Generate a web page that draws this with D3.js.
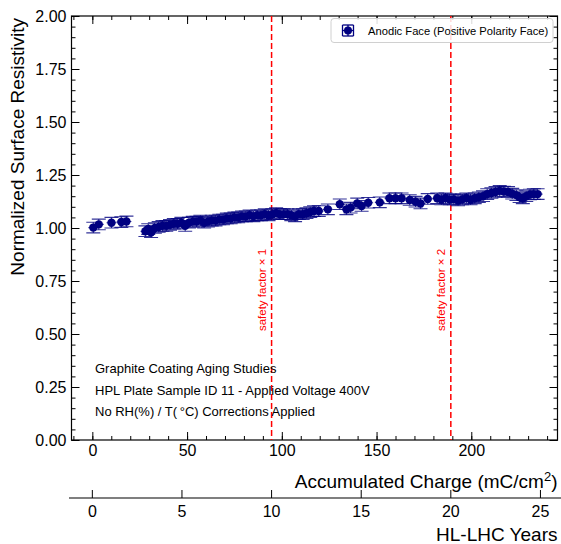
<!DOCTYPE html>
<html>
<head>
<meta charset="utf-8">
<script src="https://cdn.jsdelivr.net/npm/d3@7"></script>
<style>
  body { margin: 0; background: #fff; }
  svg { display: block; }
  text { font-family: "Liberation Sans", Arial, Helvetica, sans-serif; fill: #000; }
</style>
</head>
<body>
<svg id="chart" width="561" height="544"></svg>
<script>
// Accumulated charge (mC/cm^2) for each measurement
const charge = [
  0.5, 3.4, 10.1, 15.3, 18.0,
  28.0, 29.5, 31.0, 33.0, 35.0, 37.0, 39.0, 41.0, 43.0, 45.0, 47.0, 49.0, 51.0, 53.0,
  55.0, 57.0, 59.0, 61.0, 63.0, 65.0, 67.0, 69.0, 71.0, 73.0, 75.0, 77.0, 79.0, 81.0,
  83.0, 85.0, 87.0, 89.0, 91.0, 93.0, 95.0, 97.0, 99.0, 101.0, 103.0, 105.0, 107.0,
  109.0, 111.0, 113.0, 115.0, 117.0, 119.5,
  124.3, 130.6, 134.1, 136.3, 139.8, 142.1, 145.6, 151.7, 156.8, 160.0, 163.2, 167.5,
  170.6, 173.2, 177.0,
  182.0, 184.2, 186.4, 188.6, 190.8, 193.0, 195.2, 197.4, 199.6, 201.8, 204.0, 206.2,
  208.4, 210.6, 212.8, 215.0, 217.2, 219.4, 221.6, 223.8, 225.5, 227.2, 229.0, 231.0,
  233.0, 235.0
];

// Normalized surface resistivity of the anodic face
const resistivity = [
  1.002, 1.017, 1.025, 1.028, 1.031,
  0.985, 0.995, 0.980, 1.000, 1.005, 1.010, 1.010, 1.015, 1.020, 1.020, 1.025, 1.010, 1.025, 1.030,
  1.030, 1.035, 1.025, 1.030, 1.035, 1.035, 1.040, 1.040, 1.045, 1.045, 1.050, 1.050, 1.055, 1.055,
  1.060, 1.055, 1.060, 1.060, 1.065, 1.060, 1.065, 1.070, 1.065, 1.065, 1.065, 1.060, 1.055,
  1.065, 1.065, 1.070, 1.075, 1.080, 1.080,
  1.088, 1.112, 1.088, 1.096, 1.116, 1.104, 1.119, 1.121, 1.140, 1.140, 1.140, 1.132,
  1.124, 1.116, 1.137,
  1.140, 1.135, 1.140, 1.135, 1.135, 1.130, 1.135, 1.140, 1.135, 1.140, 1.145, 1.150,
  1.160, 1.165, 1.170, 1.175, 1.172, 1.170, 1.162, 1.155, 1.145, 1.140, 1.150, 1.158,
  1.160, 1.160
];

// Measurement uncertainties
const resistivityErr = 0.025;   // normalized units
const chargeErr = 2.6;          // mC/cm^2

// Axis ticks
const yTicks = [0, 0.25, 0.5, 0.75, 1.0, 1.25, 1.5, 1.75, 2.0];
const yTickLabels = ["0.00", "0.25", "0.50", "0.75", "1.00", "1.25", "1.50", "1.75", "2.00"];
const chargeTicks = [0, 50, 100, 150, 200];
const yearTicks = [0, 5, 10, 15, 20, 25];

// HL-LHC conversion and safety-factor markers
const chargePerYear = 9.46;     // mC/cm^2 per HL-LHC year
const safetyYears = [10, 20];
const safetyLabels = ["safety factor \u00d7 1", "safety factor \u00d7 2"];

const annotations = [
  "Graphite Coating Aging Studies",
  "HPL Plate Sample ID 11 - Applied Voltage 400V",
  "No RH(%) / T(\u2009\u00b0C) Corrections Applied"
];
const seriesName = "Anodic Face (Positive Polarity Face)";

// ---- layout ----
const frame = { left: 71.5, right: 557.5, top: 16, bottom: 440 };
const chargeDomain = [-11, 245.5];
const navy = "#000080";

const svg = d3.select("#chart");

const x = d3.scaleLinear().domain(chargeDomain).range([frame.left, frame.right]);
const xYears = d3.scaleLinear()
  .domain(chargeDomain.map(c => c / chargePerYear))
  .range([frame.left, frame.right]);
const y = d3.scaleLinear().domain([0, 2]).range([frame.bottom, frame.top]);

const plotW = frame.right - frame.left, plotH = frame.bottom - frame.top;

svg.append("defs").append("clipPath").attr("id", "plotClip")
  .append("rect").attr("x", frame.left).attr("y", frame.top).attr("width", plotW).attr("height", plotH);

// ---- frame ticks (pointing inward) ----
const minorX = d3.range(-10, 246, 10);
const minorY = d3.range(0, 2.0001, 0.05);

function tickAxis(axisFn, scale, values, size) {
  return axisFn(scale).tickValues(values).tickSize(size).tickFormat("");
}
function addTicks(axisFn, scale, values, size, tx, ty) {
  svg.append("g").attr("transform", `translate(${tx},${ty})`)
    .call(tickAxis(axisFn, scale, values, size))
    .call(g => g.select(".domain").remove());
}

addTicks(d3.axisTop, x, minorX, 4, 0, frame.bottom);
addTicks(d3.axisTop, x, chargeTicks, 8, 0, frame.bottom);
addTicks(d3.axisBottom, x, minorX, 4, 0, frame.top);
addTicks(d3.axisBottom, x, chargeTicks, 8, 0, frame.top);
addTicks(d3.axisRight, y, minorY, 4, frame.left, 0);
addTicks(d3.axisRight, y, yTicks, 8, frame.left, 0);
addTicks(d3.axisLeft, y, minorY, 4, frame.right, 0);
addTicks(d3.axisLeft, y, yTicks, 8, frame.right, 0);

const xLab = svg.append("g").attr("transform", `translate(0,${frame.bottom})`)
  .call(d3.axisBottom(x).tickValues(chargeTicks).tickSize(0).tickPadding(5).tickFormat(d3.format("d")));
xLab.select(".domain").remove();
xLab.selectAll("text").attr("font-size", 16).style("font-family", "Liberation Sans, Arial, sans-serif");

const yLab = svg.append("g").attr("transform", `translate(${frame.left},0)`)
  .call(d3.axisLeft(y).tickValues(yTicks).tickSize(0).tickPadding(5)
    .tickFormat((d, i) => yTickLabels[i]));
yLab.select(".domain").remove();
yLab.selectAll("text").attr("font-size", 16).style("font-family", "Liberation Sans, Arial, sans-serif");

svg.selectAll(".tick line").attr("stroke", "#000").attr("stroke-width", 1);

svg.append("rect")
  .attr("x", frame.left).attr("y", frame.top).attr("width", plotW).attr("height", plotH)
  .attr("fill", "none").attr("stroke", "#000").attr("stroke-width", 1.2);

// ---- secondary axis: HL-LHC years ----
const yearAxisY = 498;
const yearAxis = svg.append("g").attr("transform", `translate(0,${yearAxisY})`);
yearAxis.append("line").attr("x1", 69).attr("x2", 561).attr("stroke", "#000").attr("stroke-width", 1.2);
yearTicks.forEach(t => {
  yearAxis.append("line").attr("x1", xYears(t)).attr("x2", xYears(t))
    .attr("y1", 0).attr("y2", -8).attr("stroke", "#000");
  yearAxis.append("text").attr("x", xYears(t)).attr("y", 19)
    .attr("text-anchor", "middle").attr("font-size", 16).text(t);
});

// axis titles
svg.append("text").attr("x", frame.right).attr("y", 488).attr("text-anchor", "end")
  .attr("font-size", 19)
  .html('Accumulated Charge (mC/cm<tspan baseline-shift="super" font-size="13">2</tspan>)');
svg.append("text").attr("x", frame.right).attr("y", 541).attr("text-anchor", "end")
  .attr("font-size", 19).text("HL-LHC Years");
svg.append("text")
  .attr("transform", `translate(24,${frame.top + 2}) rotate(-90)`)
  .attr("text-anchor", "end").attr("font-size", 19)
  .text("Normalized Surface Resistivity");

// ---- safety factor lines ----
const safety = svg.append("g");
safetyYears.forEach((yr, i) => {
  const px = xYears(yr);
  safety.append("line").attr("x1", px).attr("x2", px)
    .attr("y1", frame.top).attr("y2", frame.bottom)
    .attr("stroke", "#ff0000").attr("stroke-width", 1.5).attr("stroke-dasharray", "6,3");
  safety.append("text")
    .attr("transform", `translate(${px - 6},290) rotate(-90)`)
    .attr("text-anchor", "middle").attr("font-size", 11.5).style("fill", "#ff0000")
    .text(safetyLabels[i]);
});

// ---- data with error bars ----
const pts = charge.map((c, i) => ({ c, v: resistivity[i] }));
const cap = 7;
const data = svg.append("g").attr("clip-path", "url(#plotClip)");

const eb = data.append("g").attr("stroke", navy).attr("stroke-width", 1.1).attr("stroke-opacity", 0.8);
pts.forEach(p => {
  const cx = x(p.c), cy = y(p.v);
  const yt = y(p.v + resistivityErr), yb = y(p.v - resistivityErr);
  eb.append("line").attr("x1", cx).attr("x2", cx).attr("y1", yt).attr("y2", yb);
  eb.append("line").attr("x1", cx - cap).attr("x2", cx + cap).attr("y1", yt).attr("y2", yt);
  eb.append("line").attr("x1", cx - cap).attr("x2", cx + cap).attr("y1", yb).attr("y2", yb);
  eb.append("line").attr("x1", x(p.c - chargeErr)).attr("x2", x(p.c + chargeErr))
    .attr("y1", cy).attr("y2", cy);
});
data.append("g").selectAll("circle").data(pts).join("circle")
  .attr("cx", d => x(d.c)).attr("cy", d => y(d.v)).attr("r", 4.2).attr("fill", navy);

// ---- annotations ----
annotations.forEach((t, i) => {
  svg.append("text").attr("x", 95).attr("y", 373 + i * 21.5).attr("font-size", 13).text(t);
});

// ---- legend ----
const lg = svg.append("g");
lg.append("rect").attr("x", 331).attr("y", 18.5).attr("width", 222).attr("height", 24).attr("rx", 3)
  .attr("fill", "#fff").attr("fill-opacity", 0.85).attr("stroke", "#d0d0d0");
const lx = 348, ly = 30.5, lc = 5.5;
const lgb = lg.append("g").attr("stroke", navy).attr("stroke-width", 1.3);
lgb.append("line").attr("x1", lx).attr("x2", lx).attr("y1", ly - lc).attr("y2", ly + lc);
lgb.append("line").attr("x1", lx - lc).attr("x2", lx + lc).attr("y1", ly).attr("y2", ly);
lgb.append("line").attr("x1", lx - lc).attr("x2", lx + lc).attr("y1", ly - lc).attr("y2", ly - lc);
lgb.append("line").attr("x1", lx - lc).attr("x2", lx + lc).attr("y1", ly + lc).attr("y2", ly + lc);
lgb.append("line").attr("x1", lx - lc).attr("x2", lx - lc).attr("y1", ly - lc).attr("y2", ly + lc);
lgb.append("line").attr("x1", lx + lc).attr("x2", lx + lc).attr("y1", ly - lc).attr("y2", ly + lc);
lg.append("circle").attr("cx", lx).attr("cy", ly).attr("r", 4).attr("fill", navy);
lg.append("text").attr("x", 368).attr("y", 34.5).attr("font-size", 11.2).text(seriesName);
</script>
</body>
</html>
